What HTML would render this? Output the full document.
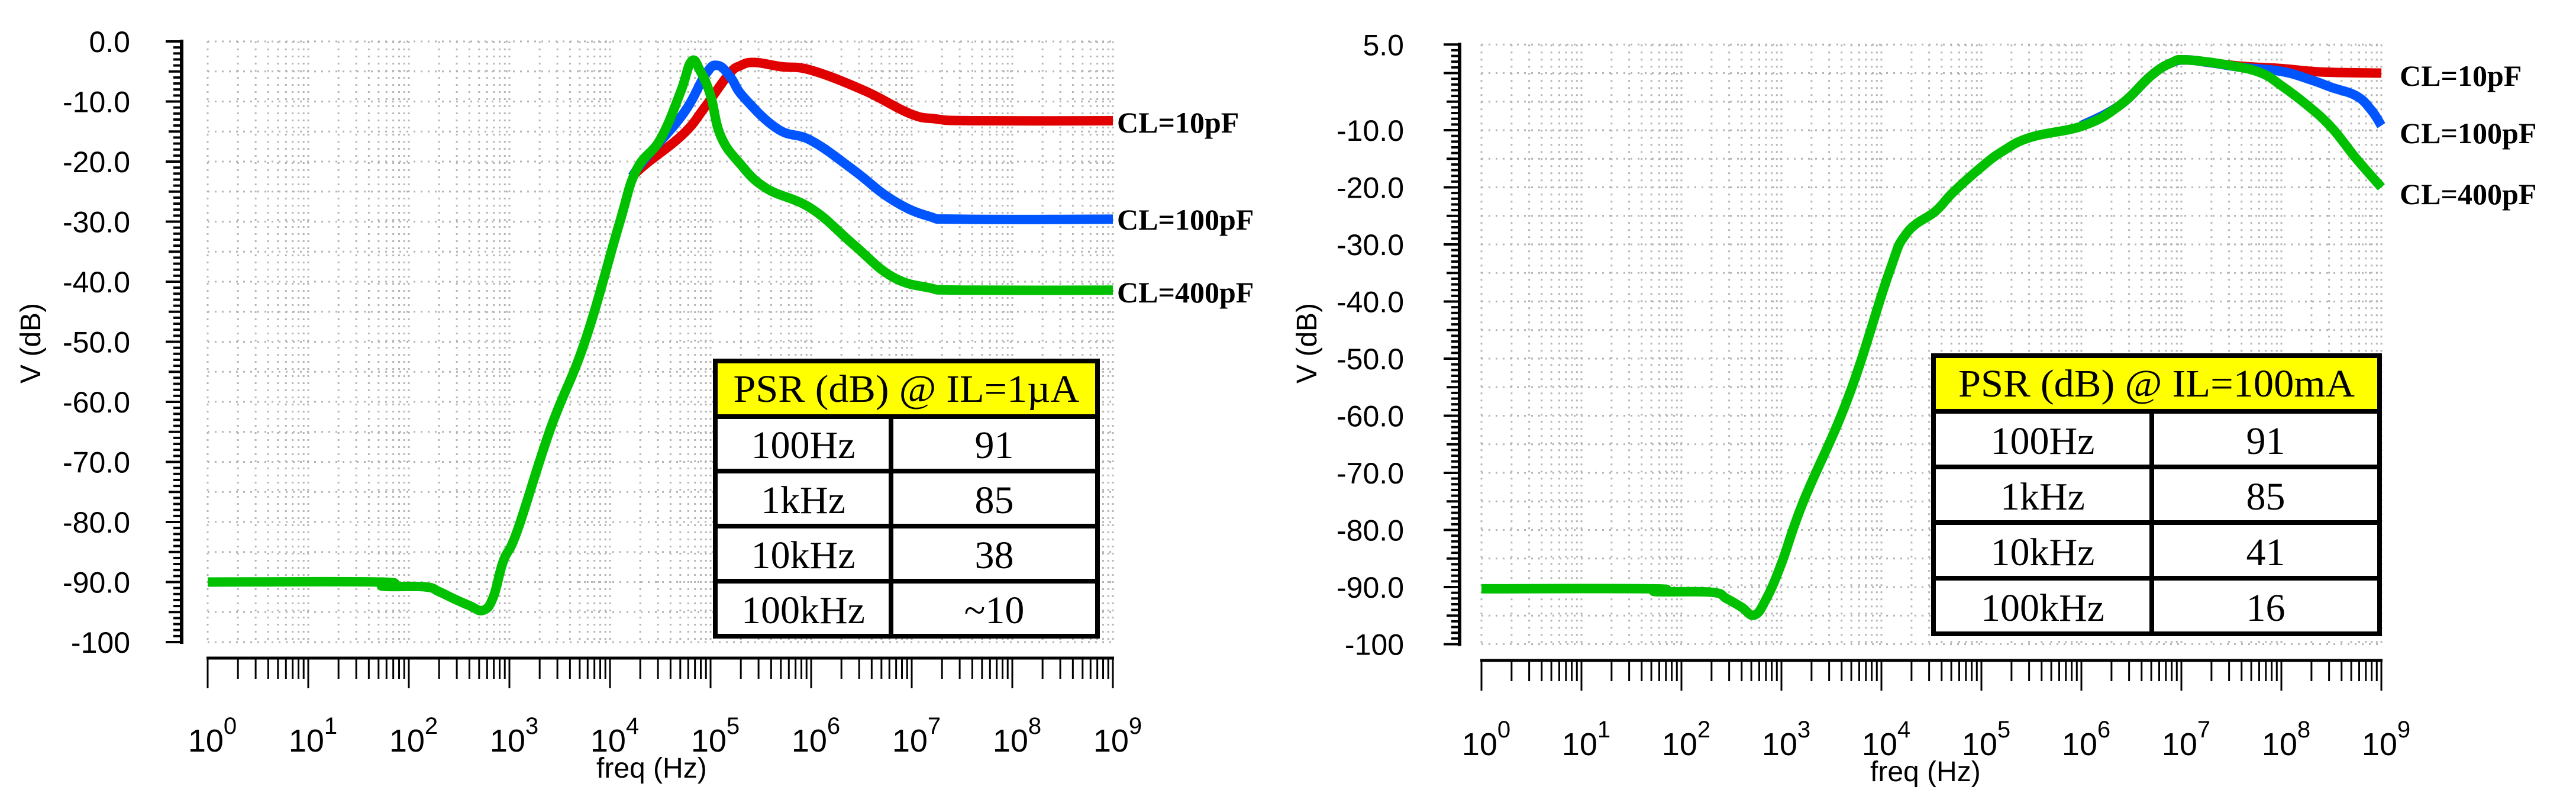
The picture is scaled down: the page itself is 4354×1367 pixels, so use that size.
<!DOCTYPE html>
<html><head><meta charset="utf-8"><title>PSR vs frequency</title>
<style>html,body{margin:0;padding:0;background:#fff}svg{display:block}</style></head>
<body>
<svg id="chart" xmlns="http://www.w3.org/2000/svg" width="4354" height="1367" viewBox="0 0 4354 1367">
<rect width="4354" height="1367" fill="#fff"/>
</svg>
<script>
// ---------- DATA ----------
const decadeTicks = [0,1,2,3,4,5,6,7,8,9];
const leftYTickValues = [0,-10,-20,-30,-40,-50,-60,-70,-80,-90,-100];
const leftYTickLabels = ["0.0","-10.0","-20.0","-30.0","-40.0","-50.0","-60.0","-70.0","-80.0","-90.0","-100"];
const rightYTickValues = [5,-10,-20,-30,-40,-50,-60,-70,-80,-90,-100];
const rightYTickLabels = ["5.0","-10.0","-20.0","-30.0","-40.0","-50.0","-60.0","-70.0","-80.0","-90.0","-100"];
const seriesNames = ["CL=10pF","CL=100pF","CL=400pF"];

// left panel (IL=1uA): log10(freq) and dB
const leftRedLogF = [4.22,4.35,4.73,4.95,5.18,5.3,5.44,5.7,6.0,6.53,6.98,7.24,7.6,9];
const leftRedDb   = [-22.5,-20.5,-15.4,-10.8,-5.5,-4,-3.5,-4.2,-4.8,-8.2,-12,-12.9,-13.2,-13.2];
const leftBlueLogF = [4.22,4.35,4.73,4.95,5.07,5.2,5.33,5.67,6.0,6.42,6.8,7.17,7.5,9];
const leftBlueDb   = [-22.5,-19.5,-12,-5.5,-4.0,-6,-9.3,-14.6,-16.5,-21.4,-26.3,-29.1,-29.6,-29.6];
const leftGreenLogF = [0,1.72,1.74,2.16,2.3,2.45,2.6,2.74,2.84,2.94,3.08,3.41,3.75,4.09,4.26,4.5,4.7,4.81,4.9,5.0,5.1,5.29,5.55,6.0,6.42,6.8,7.17,7.5,9];
const leftGreenDb   = [-90,-90,-90.7,-90.8,-91.6,-92.8,-93.9,-94.7,-92.5,-86.5,-81.4,-64.4,-50,-30.5,-21.5,-16.3,-8.5,-3.3,-5,-9,-15.7,-20.3,-24.4,-27.8,-33.8,-39.1,-41,-41.4,-41.4];

// right panel (IL=100mA)
const rightRedLogF = [6.0,6.38,6.7,6.9,7.05,7.3,7.6,8.0,8.4,9];
const rightRedDb   = [-9.2,-5.7,-0.4,1.8,2.3,1.8,1.2,0.8,0.2,0];
const rightBlueLogF = [6.0,6.38,6.7,6.9,7.05,7.3,7.6,8.0,8.3,8.5,8.75,8.9,9];
const rightBlueDb   = [-9.2,-5.7,-0.4,1.8,2.3,1.8,1.0,0.3,-1.2,-2.5,-4,-6.5,-9.2];
const rightGreenLogF = [0,1.72,1.74,2.3,2.45,2.6,2.73,2.85,3.0,3.22,3.67,4.07,4.25,4.54,4.71,4.99,5.22,5.5,6.02,6.38,6.7,6.9,7.05,7.5,7.8,8.0,8.25,8.5,8.75,9];
const rightGreenDb   = [-90.3,-90.3,-90.8,-90.9,-92,-93.5,-94.9,-92,-85.9,-75,-56.7,-35.3,-28.1,-24.2,-21,-16.6,-13.6,-11.2,-9.2,-5.7,-0.4,1.8,2.3,1.3,0,-2.2,-5.5,-9.5,-15,-20];

const leftTableTitle = "PSR (dB) @ IL=1µA";
const rightTableTitle = "PSR (dB) @ IL=100mA";
const tableFreqs = ["100Hz","1kHz","10kHz","100kHz"];
const leftTableVals = ["91","85","38","~10"];
const rightTableVals = ["91","85","41","16"];

// ---------- RENDER ----------
const NS = "http://www.w3.org/2000/svg";
const svg = document.getElementById("chart");
function mk(tag, attrs, parent) {
  const e = document.createElementNS(NS, tag);
  for (const k in attrs) e.setAttribute(k, attrs[k]);
  (parent || svg).appendChild(e);
  return e;
}
const colors = ["#e00000","#0055ff","#00c000"];

function smoothPath(P) {
  let d = "M" + P[0][0].toFixed(1) + "," + P[0][1].toFixed(1);
  for (let i = 0; i < P.length - 1; i++) {
    const p0 = P[Math.max(0, i-1)], p1 = P[i], p2 = P[i+1], p3 = P[Math.min(P.length-1, i+2)];
    const t = 0.2;
    const c1x = p1[0] + (p2[0]-p0[0])*t, c1y = p1[1] + (p2[1]-p0[1])*t;
    const c2x = p2[0] - (p3[0]-p1[0])*t, c2y = p2[1] - (p3[1]-p1[1])*t;
    d += ` C${c1x.toFixed(1)},${c1y.toFixed(1)} ${c2x.toFixed(1)},${c2y.toFixed(1)} ${p2[0].toFixed(1)},${p2[1].toFixed(1)}`;
  }
  return d;
}

function drawPanel(cfg) {
  const g = mk("g", {});
  
  
  const xS = v => cfg.x0 + v * cfg.dec;
  const yS = v => cfg.yZero - v * cfg.pxDb;
  const gTop = yS(cfg.yMax), gBot = yS(cfg.yMin), gL = xS(0), gR = xS(9);
  const grid = mk("g", {stroke:"#b4b4b4","stroke-width":3,"stroke-dasharray":"3 9",fill:"none"}, g);
  
  
  for (let d = 0; d <= 9; d++) {
    for (let k = 1; k <= (d === 9 ? 1 : 9); k++) {
      const x = xS(d + Math.log10(k));
      mk("line", {x1:x, y1:gTop, x2:x, y2:gBot}, grid);
    }
  }
  for (let v = cfg.yMax; v >= cfg.yMin - 0.01; v -= 5) {
    mk("line", {x1:gL, y1:yS(v), x2:gR, y2:yS(v)}, grid);
  }
  const ya = mk("g", {stroke:"#000"}, g);
  
  
  mk("line", {x1:cfg.yAxisX, y1:gTop-3, x2:cfg.yAxisX, y2:gBot+3, "stroke-width":6}, ya);
  for (let v = cfg.yMax; v >= cfg.yMin - 0.01; v -= 1) {
    const vr = Math.round(v);
    const len = (vr % 10 === 0 || vr === cfg.yMax) ? 27 : (vr % 5 === 0 ? 22 : 14);
    mk("line", {x1:cfg.yAxisX - len, y1:yS(vr), x2:cfg.yAxisX, y2:yS(vr), "stroke-width":4}, ya);
  }
  cfg.yVals.forEach((v, i) => {
    const t = mk("text", {x:cfg.yLabelX, y:yS(v)+18, "text-anchor":"end", "font-family":"Liberation Sans, sans-serif", "font-size":50, fill:"#000", stroke:"none"}, ya);
    
    
    t.textContent = cfg.yLabels[i];
  });
  const yt = mk("text", {x:0, y:0, "text-anchor":"middle", "font-family":"Liberation Sans, sans-serif", "font-size":48, fill:"#000", transform:`translate(${cfg.yTitleX},580) rotate(-90)`}, g);
  
  
  yt.textContent = "V (dB)";
  const xa = mk("g", {stroke:"#000"}, g);
  
  
  mk("line", {x1:gL-2, y1:cfg.xAxisY, x2:gR+2, y2:cfg.xAxisY, "stroke-width":5}, xa);
  for (let d = 0; d <= 9; d++) {
    for (let k = 1; k <= (d === 9 ? 1 : 9); k++) {
      const x = xS(d + Math.log10(k));
      const len = k === 1 ? 51 : 35;
      mk("line", {x1:x, y1:cfg.xAxisY, x2:x, y2:cfg.xAxisY + len, "stroke-width":3}, xa);
    }
  }
  decadeTicks.forEach(d => {
    const t = mk("text", {x:xS(d)+8, y:cfg.xLabelY, "text-anchor":"middle", "font-family":"Liberation Sans, sans-serif", "font-size":54, fill:"#000", stroke:"none"}, xa);
    
    
    const a = document.createElementNS(NS, "tspan"); a.textContent = "10"; t.appendChild(a);
    const b = document.createElementNS(NS, "tspan"); b.setAttribute("dy", -30); b.setAttribute("font-size", 40); b.textContent = String(d); t.appendChild(b);
  });
  const xt = mk("text", {x:cfg.xTitleX, y:cfg.xLabelY+44, "font-family":"Liberation Sans, sans-serif", "font-size":48, fill:"#000"}, g);
  
  
  xt.textContent = "freq (Hz)";
  cfg.series.forEach((s, i) => {
    const P = s.lf.map((v, j) => [xS(v), yS(s.db[j])]);
    const pl = mk("path", {d:smoothPath(P), fill:"none", stroke:colors[i], "stroke-width":16, "stroke-linejoin":"round", "stroke-linecap":"butt"}, g);
    
    
  });
  seriesNames.forEach((n, i) => {
    const t = mk("text", {x:cfg.labelX, y:cfg.labelY[i]+17, "font-family":"Liberation Serif, serif", "font-weight":"bold", "font-size":50, fill:"#000"}, g);
    
    
    t.textContent = n;
  });
  const tb = mk("g", {}, g);
  
  
  const T = cfg.table;
  mk("rect", {x:T.l, y:T.t, width:T.r-T.l, height:T.rows[0]-T.t, fill:"#ffff00"}, tb);
  mk("rect", {x:T.l, y:T.rows[0], width:T.r-T.l, height:T.b-T.rows[0], fill:"#fff"}, tb);
  const ht = mk("text", {x:(T.l+T.r)/2, y:T.rows[0]-25, "text-anchor":"middle", "font-family":"Liberation Serif, serif", "font-size":66, fill:"#000", textLength:T.hw, lengthAdjust:"spacingAndGlyphs"}, tb);
  
  
  ht.textContent = T.title;
  const ys = [T.rows[0], T.rows[1], T.rows[2], T.rows[3], T.b];
  for (let r = 0; r < 4; r++) {
    const cy = ys[r+1] - 22;
    const a = mk("text", {x:(T.l+T.mid)/2, y:cy, "text-anchor":"middle", "font-family":"Liberation Serif, serif", "font-size":66, fill:"#000"}, tb);
    
    
    a.textContent = tableFreqs[r];
    const b = mk("text", {x:(T.mid+T.r)/2, y:cy, "text-anchor":"middle", "font-family":"Liberation Serif, serif", "font-size":66, fill:"#000"}, tb);
    
    
    b.textContent = T.vals[r];
  }
  const bs = {stroke:"#000","stroke-width":8};
  mk("rect", {x:T.l, y:T.t, width:T.r-T.l, height:T.b-T.t, fill:"none", stroke:"#000", "stroke-width":8}, tb);
  T.rows.forEach(y => mk("line", Object.assign({x1:T.l, y1:y, x2:T.r, y2:y}, bs), tb));
  mk("line", Object.assign({x1:T.mid, y1:T.rows[0], x2:T.mid, y2:T.b}, bs), tb);
}

drawPanel({
  name:"left-panel", x0:351, dec:170, yZero:70, pxDb:10.15, yMax:0, yMin:-100,
  yAxisX:307, yLabelX:220, yTitleX:68, yVals:leftYTickValues, yLabels:leftYTickLabels,
  xAxisY:1112, xLabelY:1270, xTitleX:1008,
  series:[{lf:leftRedLogF, db:leftRedDb},{lf:leftBlueLogF, db:leftBlueDb},{lf:leftGreenLogF, db:leftGreenDb}],
  labelX:1888, labelY:[207,371,494],
  table:{l:1209, r:1855, t:610, rows:[704,796,889,982], b:1075, mid:1506, title:leftTableTitle, vals:leftTableVals, hw:585}
});
drawPanel({
  name:"right-panel", x0:2504, dec:169, yZero:123.5, pxDb:9.65, yMax:5, yMin:-100,
  yAxisX:2467, yLabelX:2373, yTitleX:2225, yVals:rightYTickValues, yLabels:rightYTickLabels,
  xAxisY:1116, xLabelY:1276, xTitleX:3161,
  series:[{lf:rightRedLogF, db:rightRedDb},{lf:rightBlueLogF, db:rightBlueDb},{lf:rightGreenLogF, db:rightGreenDb}],
  labelX:4056, labelY:[128,225,328],
  table:{l:3268, r:4022, t:601, rows:[695,789,883,977], b:1071, mid:3637, title:rightTableTitle, vals:rightTableVals, hw:670}
});
</script>
</body></html>
